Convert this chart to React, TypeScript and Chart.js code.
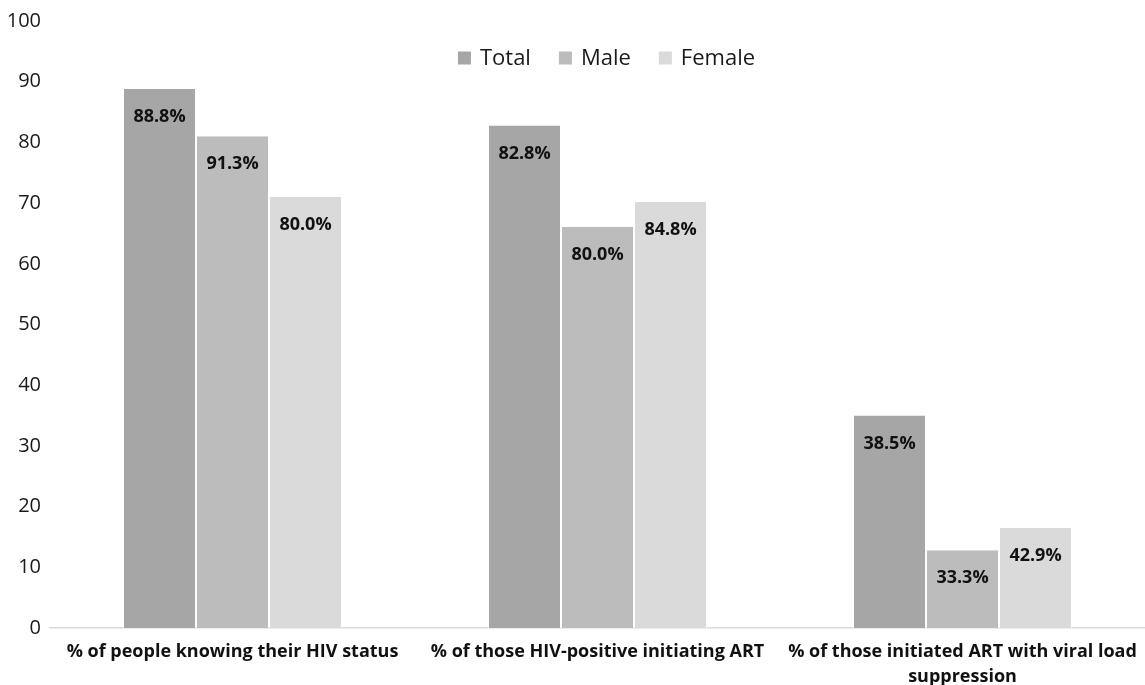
import React, { useEffect, useRef } from "react";
import { Chart, registerables } from "chart.js";

Chart.register(...registerables);

const categories: (string | string[])[] = [
  "% of people knowing their HIV status",
  "% of those HIV-positive initiating ART",
  ["% of those initiated ART with viral load", "suppression"],
];
const seriesNames = ["Total", "Male", "Female"];
const totalValues = [88.8, 82.8, 35.0];
const maleValues = [81.0, 66.1, 12.8];
const femaleValues = [71.0, 70.2, 16.5];
const totalLabels = ["88.8%", "82.8%", "38.5%"];
const maleLabels = ["91.3%", "80.0%", "33.3%"];
const femaleLabels = ["80.0%", "84.8%", "42.9%"];
const colors = ["#a5a6a5", "#bcbcbc", "#d9dad9"];
const yTicks = [0, 10, 20, 30, 40, 50, 60, 70, 80, 90, 100];

const FONT = "'Open Sans', 'Noto Sans', sans-serif";

const valueLabelPlugin = {
  id: "valueLabels",
  afterDatasetsDraw(chart: any) {
    const ctx = chart.ctx;
    const allLabels = [totalLabels, maleLabels, femaleLabels];
    ctx.save();
    ctx.font = `bold 18px ${FONT}`;
    ctx.fillStyle = "#111";
    ctx.textAlign = "center";
    ctx.textBaseline = "middle";
    chart.data.datasets.forEach((ds: any, di: number) => {
      const meta = chart.getDatasetMeta(di);
      meta.data.forEach((el: any, i: number) => {
        ctx.fillText(allLabels[di][i], el.x, el.y + 28);
      });
    });
    ctx.restore();
  },
};

const legendPlugin = {
  id: "customLegend",
  afterDraw(chart: any) {
    const ctx = chart.ctx;
    ctx.save();
    ctx.font = `22px ${FONT}`;
    const box = 13;
    const gapBox = 9;
    const gapItem = 28;
    const widths = seriesNames.map((n) => box + gapBox + ctx.measureText(n).width);
    const total = widths.reduce((a, b) => a + b, 0) + gapItem * (seriesNames.length - 1);
    const area = chart.chartArea;
    let x = (area.left + area.right) / 2 + 9 - total / 2;
    const cy = 58;
    ctx.textBaseline = "middle";
    ctx.textAlign = "left";
    seriesNames.forEach((n, i) => {
      ctx.fillStyle = colors[i];
      ctx.fillRect(x, cy - box / 2, box, box);
      ctx.fillStyle = "#1a1a1a";
      ctx.fillText(n, x + box + gapBox, cy + 1);
      x += widths[i] + gapItem;
    });
    ctx.restore();
  },
};

export default function App() {
  const ref = useRef<HTMLCanvasElement | null>(null);
  useEffect(() => {
    if (!ref.current) return;
    const chart = new Chart(ref.current, {
      type: "bar",
      data: {
        labels: categories,
        datasets: [totalValues, maleValues, femaleValues].map((d, i) => ({
          label: seriesNames[i],
          data: d,
          backgroundColor: colors[i],
          borderColor: "rgba(255,255,255,0.55)",
          borderWidth: { left: 1, right: 1, top: 0, bottom: 0 },
          borderSkipped: false,
          categoryPercentage: 0.6,
          barPercentage: 1.0,
        })),
      },
      options: {
        responsive: false,
        animation: false,
        maintainAspectRatio: false,
        layout: { padding: { top: 19, right: 0, left: 0, bottom: 0 } },
        plugins: {
          legend: { display: false },
          tooltip: { enabled: false },
        },
        scales: {
          x: {
            grid: { display: false, drawTicks: false },
            border: { display: true, color: "#d9d9d9", width: 1.5 },
            ticks: {
              font: { family: FONT, size: 18, weight: "bold", lineHeight: 1.4 },
              color: "#111",
              padding: 11,
              maxRotation: 0,
              autoSkip: false,
            },
            afterFit: (s: any) => {
              s.height = 57;
              s.paddingLeft = 0;
              s.paddingRight = 0;
            },
          },
          y: {
            min: 0,
            max: 100,
            afterBuildTicks: (s: any) => {
              s.ticks = yTicks.map((v) => ({ value: v }));
            },
            grid: { display: false, drawTicks: false },
            border: { display: false },
            ticks: {
              font: { family: FONT, size: 20 },
              color: "#1a1a1a",
              padding: 9,
            },
            afterFit: (s: any) => {
              s.width = 50;
            },
          },
        },
      },
      plugins: [valueLabelPlugin, legendPlugin],
    });
    return () => chart.destroy();
  }, []);
  return (
    <div style={{ position: "absolute", left: 0, top: 0, width: 1145, height: 685, background: "#fff" }}>
      <canvas ref={ref} width={1145} height={685} style={{ width: 1145, height: 685, display: "block" }} />
    </div>
  );
}
